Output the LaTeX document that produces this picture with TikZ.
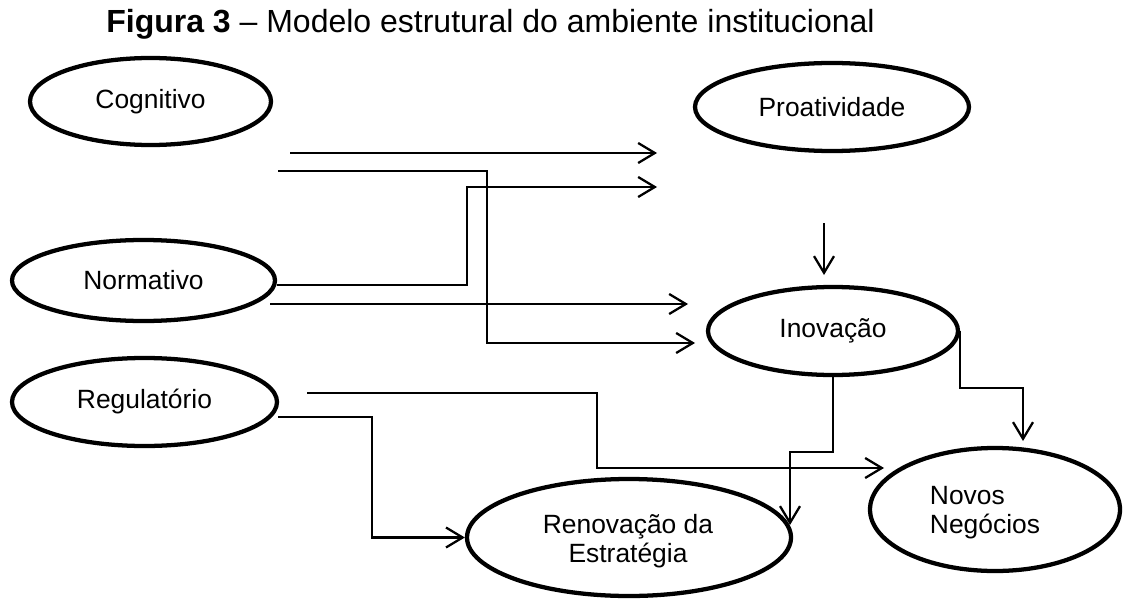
\documentclass[tikz,border=0pt]{standalone}
\usepackage{fontspec}
\setmainfont{Liberation Sans}
\usetikzlibrary{shapes.geometric,arrows.meta}
\begin{document}
\begin{tikzpicture}[x=0.75pt,y=-0.75pt,
  ell/.style={draw,ellipse,line width=3.2pt,inner sep=0pt,font=\fontsize{19.8pt}{23pt}\selectfont,align=center},
  lbl/.style={inner sep=0pt,font=\fontsize{19.8pt}{21.5pt}\selectfont},
  wire/.style={line width=1.7pt},
  conn/.style={wire,-{Straight Barb[length=12.5pt,width=15pt,line width=1.7pt]}}]
\useasboundingbox (0,0) rectangle (1123,599);
% title
\node[anchor=base,inner sep=0pt] (title) at (490.5,33) {\fontsize{24pt}{28pt}\selectfont\textbf{Figura 3} – Modelo estrutural do ambiente institucional};
% nodes
\node[ell,minimum width=180.75pt,minimum height=65.25pt] (cog) at (150.5,101.5) {Cognitivo};
\node[ell,minimum width=205.5pt,minimum height=66pt] (pro) at (832,107) {Proatividade};
\node[ell,minimum width=197.25pt,minimum height=60.75pt] (nor) at (143.5,280.5) {Normativo};
\node[ell,minimum width=187.5pt,minimum height=66pt] (ino) at (833,331) {Inovação};
\node[ell,minimum width=198.75pt,minimum height=66pt] (reg) at (144.5,402) {Regulatório};
\node[ell,minimum width=243pt,minimum height=87.75pt] (ren) at (629,537.5) {};
\node[lbl,align=center] (rentxt) at (628,541) {Renovação da\\Estratégia};
\node[ell,minimum width=187.5pt,minimum height=92.25pt] (nov) at (995,509.5) {};
\node[lbl,align=left] (novtxt) at (985,512.5) {Novos\\Negócios};
% connector coordinates
\coordinate (s1) at (290,153); \coordinate (t1) at (657,153);
\coordinate (s2) at (278,171); \coordinate (b2) at (487,171); \coordinate (t2) at (695,343);
\coordinate (s3) at (277,285); \coordinate (b3) at (467,285); \coordinate (t3) at (657,187);
\coordinate (s4) at (270,304); \coordinate (t4) at (688,304);
\coordinate (s5) at (824,223); \coordinate (t5) at (824,275);
\coordinate (s6) at (307,393); \coordinate (b6) at (597,393); \coordinate (t6) at (884,468);
\coordinate (s7) at (278,417); \coordinate (b7) at (372,417);
\coordinate (b8) at (833,452); \coordinate (t8) at (790,525);
\coordinate (b9) at (1023,388); \coordinate (t9) at (1023,441);
% connectors
\draw[conn] (s1) -- (t1);
\draw[conn] (s2) -- (b2) |- (t2);
\draw[conn] (s3) -- (b3) |- (t3);
\draw[conn] (s4) -- (t4);
\draw[conn] (s5) -- (t5);
\draw[conn] (s6) -- (b6) |- (t6);
\draw[conn] (s7) -- (b7) |- (ren.west);
\draw[conn] (ino.south) -- (b8) -| (t8);
\draw[conn] (ino.east) |- (b9) -- (t9);
\end{tikzpicture}
\end{document}
